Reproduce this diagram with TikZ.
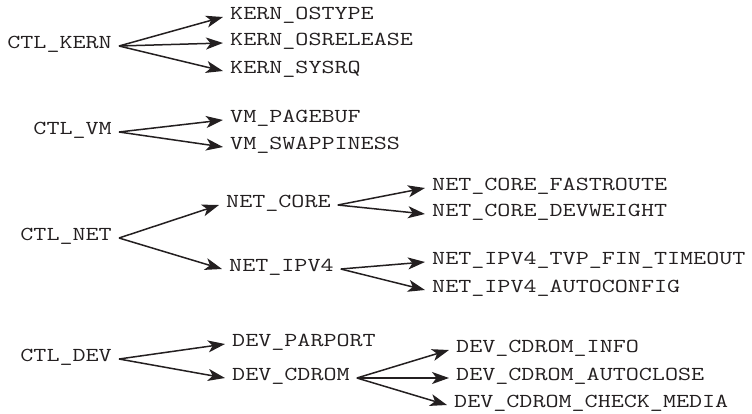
\documentclass[tikz,border=0pt]{standalone}
\usepackage{fontspec}
\newfontfamily\courlike[FakeStretch=1.28]{Latin Modern Mono}
\usetikzlibrary{arrows.meta}
\definecolor{ink}{HTML}{231F20}
\begin{document}
\begin{tikzpicture}[x=1pt,y=-1pt,
  lbl/.style={inner xsep=7pt, inner ysep=0pt, font=\courlike\fontsize{19.8}{22}\selectfont, text=ink},
  par/.style={lbl, anchor=mid east},
  kid/.style={lbl, anchor=mid west},
  link/.style={draw=ink, line width=1.5pt, -{Stealth[length=17pt,width=12pt,inset=4.5pt]}}]
\useasboundingbox (0,0) rectangle (752,413);
% KERN
\node[par] (kern) at (119,46) {CTL\_KERN};
\node[kid] (k1) at (223,17) {KERN\_OSTYPE};
\node[kid] (k2) at (223,43) {KERN\_OSRELEASE};
\node[kid] (k3) at (223,71) {KERN\_SYSRQ};
\foreach \c in {k1,k2,k3} \draw[link] (kern.mid east) -- (\c.mid west);
% VM
\node[par] (vm) at (119,132) {CTL\_VM};
\node[kid] (v1) at (223,120) {VM\_PAGEBUF};
\node[kid] (v2) at (223,147) {VM\_SWAPPINESS};
\foreach \c in {v1,v2} \draw[link] (vm.mid east) -- (\c.mid west);
% NET
\node[par] (net) at (119,238) {CTL\_NET};
\node[kid] (core) at (219,205) {NET\_CORE};
\node[kid] (ipv4) at (222,269) {NET\_IPV4};
\foreach \c in {core,ipv4} \draw[link] (net.mid east) -- (\c.mid west);
\node[kid] (c1) at (425,188) {NET\_CORE\_FASTROUTE};
\node[kid] (c2) at (425,214) {NET\_CORE\_DEVWEIGHT};
\foreach \c in {c1,c2} \draw[link] (core.mid east) -- (\c.mid west);
\node[kid] (i1) at (425,262) {NET\_IPV4\_TVP\_FIN\_TIMEOUT};
\node[kid] (i2) at (425,290) {NET\_IPV4\_AUTOCONFIG};
\foreach \c in {i1,i2} \draw[link] (ipv4.mid east) -- (\c.mid west);
% DEV
\node[par] (dev) at (119,359) {CTL\_DEV};
\node[kid] (d1) at (225,344) {DEV\_PARPORT};
\node[kid] (cd) at (225,378) {DEV\_CDROM};
\foreach \c in {d1,cd} \draw[link] (dev.mid east) -- (\c.mid west);
\node[kid] (e1) at (449,350) {DEV\_CDROM\_INFO};
\node[kid] (e2) at (449,378) {DEV\_CDROM\_AUTOCLOSE};
\node[kid] (e3) at (447,405) {DEV\_CDROM\_CHECK\_MEDIA};
\foreach \c in {e1,e2,e3} \draw[link] (cd.mid east) -- (\c.mid west);
\end{tikzpicture}
\end{document}
